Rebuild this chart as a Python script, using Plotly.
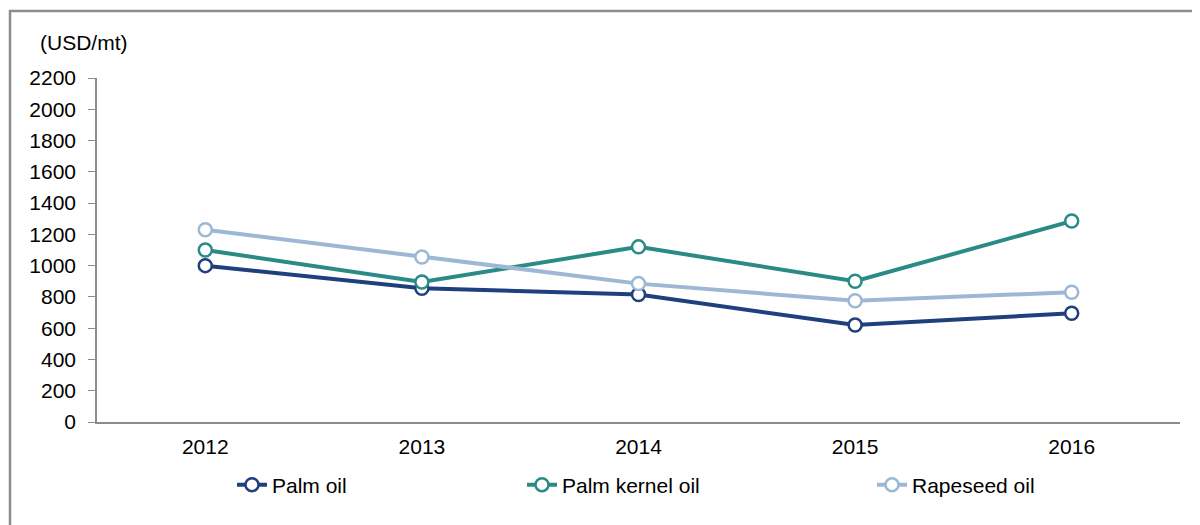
import plotly.graph_objects as go

years = ["2012", "2013", "2014", "2015", "2016"]
palm_oil = [1000, 855, 815, 620, 695]
palm_kernel_oil = [1100, 895, 1120, 900, 1285]
rapeseed_oil = [1230, 1055, 885, 775, 830]
y_ticks = [0, 200, 400, 600, 800, 1000, 1200, 1400, 1600, 1800, 2000, 2200]

series = [
    ("Palm oil", palm_oil, "#1F3F7D", "legend"),
    ("Palm kernel oil", palm_kernel_oil, "#2A8A86", "legend2"),
    ("Rapeseed oil", rapeseed_oil, "#9DB8D4", "legend3"),
]

fig = go.Figure()
for name, vals, color, lg in series:
    fig.add_trace(go.Scatter(
        x=years, y=vals, name=name, mode="lines+markers",
        line=dict(color=color, width=4),
        marker=dict(symbol="circle", size=13, color="white",
                    line=dict(color=color, width=2.5)),
        legend=lg,
    ))

# page body has an 8px margin; work in screen coords and shift
OFF = 8
W, H = 1200, 525
L = 97 - OFF
T = 78 - OFF
R = W - (1180 - OFF)
B = H - (422 - OFF)
pw, ph = W - L - R, H - T - B

def px(sx):
    return (sx - OFF - L) / pw

def py(sy):
    return 1 - (sy - OFF - T) / ph

font = dict(family="Liberation Sans, Arial, sans-serif", size=21, color="#000000")
legend_common = dict(orientation="h", xanchor="left", yanchor="middle",
                     bgcolor="rgba(0,0,0,0)", font=font, itemwidth=30)

fig.update_layout(
    width=W, height=H,
    margin=dict(l=L, r=R, t=T, b=B, autoexpand=False),
    paper_bgcolor="white", plot_bgcolor="white",
    font=font,
    showlegend=True,
    legend=dict(x=px(232), y=py(485), **legend_common),
    legend2=dict(x=px(522), y=py(485), **legend_common),
    legend3=dict(x=px(872), y=py(485), **legend_common),
    xaxis=dict(
        type="category", range=[-0.5, 4.5], showgrid=False, zeroline=False,
        showline=True, linecolor="#8C8C8C", linewidth=1.5,
        ticks="", tickfont=font, ticklabelstandoff=5,
    ),
    yaxis=dict(
        range=[0, 2200], tickvals=y_ticks, showgrid=False, zeroline=False,
        showline=True, linecolor="#8C8C8C", linewidth=1.5,
        ticks="outside", ticklen=7, tickcolor="#8C8C8C", tickwidth=1,
        tickfont=font, ticklabelstandoff=8,
    ),
    annotations=[dict(
        text="(USD/mt)", xref="paper", yref="paper",
        x=px(38), y=py(42), xanchor="left", yanchor="middle",
        showarrow=False, font=font,
    )],
    shapes=[dict(
        type="rect", xref="paper", yref="paper",
        x0=px(10), y0=py(560), x1=px(1230), y1=py(11),
        line=dict(color="#8C8C8C", width=2.5), fillcolor="rgba(0,0,0,0)",
        layer="below",
    )],
)

fig.write_html("out.html")
